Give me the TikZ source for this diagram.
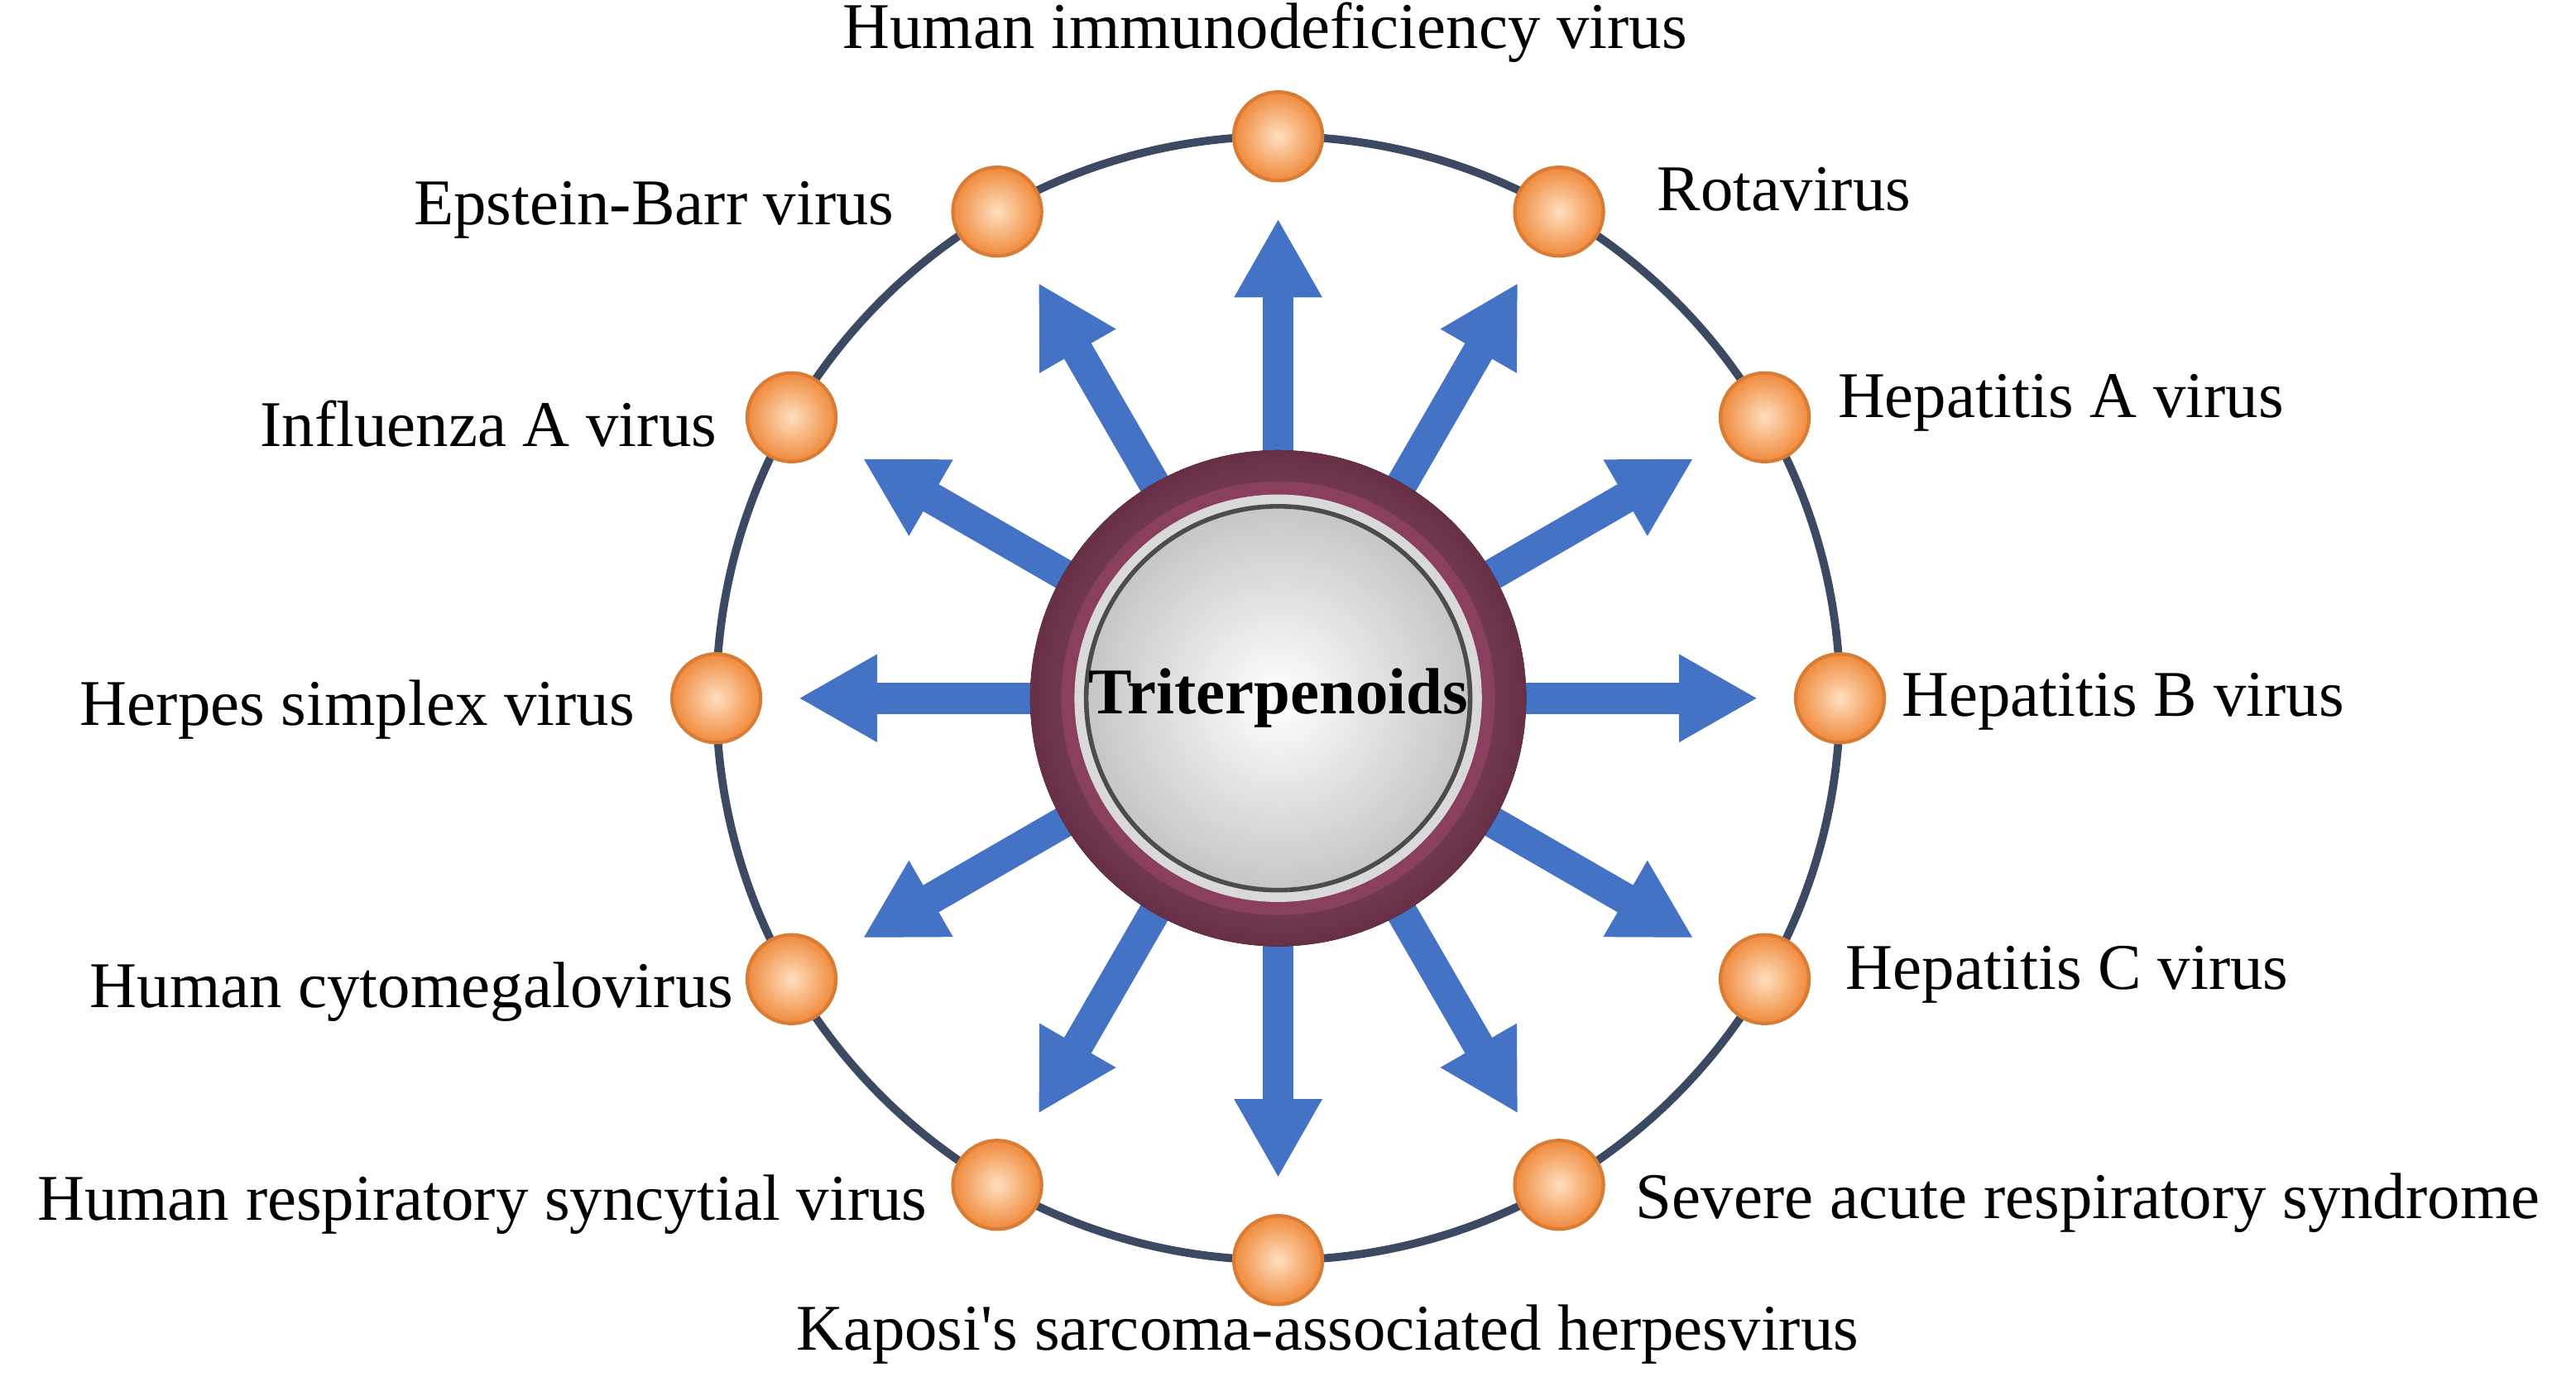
\documentclass[tikz,border=0pt]{standalone}
\usepackage{fontspec}
\setmainfont{Liberation Serif}
\usetikzlibrary{positioning,arrows.meta,calc}
\definecolor{ringblue}{HTML}{3B4A62}
\definecolor{arrowblue}{HTML}{4472C4}
\definecolor{dotorange}{HTML}{F08A3C}
\definecolor{maroon}{HTML}{8A3F5E}
\tikzset{
  dot/.style={circle,minimum size=0.54cm,inner sep=0pt,draw=dotorange!90!black,line width=0.6pt,
    inner color=orange!25,outer color=dotorange},
  lbl/.style={font=\fontsize{11.3}{13}\selectfont,inner sep=0pt},
  blockarrow/.style={arrowblue,line width=0.19cm,-{Triangle[length=0.48cm,width=0.5cm]}}
}
\begin{document}
\begin{tikzpicture}
  \useasboundingbox (0,0) rectangle (15.68,-8.38);
  \coordinate (c) at (7.78,-4.25);
  % outer circle
  \draw[ringblue,line width=1.4pt] (c) circle (3.42);
  % arrows
  \foreach \a in {0,30,...,330}
    \draw[blockarrow] ($(c)+(\a:1.45)$) coordinate (s\a) -- ($(c)+(\a:2.92)$) coordinate (e\a);
  % centre
  \fill[inner color=maroon!70!white,outer color=maroon!75!black] (c) circle (1.51);
  \fill[maroon] (c) circle (1.32);
  \fill[gray!30] (c) circle (1.24);
  \node[circle,minimum size=2.3cm,inner sep=0pt,draw=gray!60!black,line width=0.8pt,
    inner color=white,outer color=gray!45,font=\bfseries\fontsize{11.3}{13}\selectfont] (tri) at (c) {Triterpenoids};
  % dots
  \foreach \a/\n in {90/hiv,60/rota,30/hepa,0/hepb,-30/hepc,-60/sars,-90/kshv,-120/hrsv,-150/hcmv,180/hsv,150/flu,120/ebv}
    \node[dot] (\n) at ($(c)+(\a:3.42)$) {};
  % labels
  \node[lbl] at (7.70,-0.20) {Human immunodeficiency virus};
  \node[lbl,anchor=west] at (10.08,-1.15) {Rotavirus};
  \node[lbl,anchor=west] at (11.18,-2.45) {Hepatitis A virus};
  \node[lbl,anchor=west] at (11.57,-4.27) {Hepatitis B virus};
  \node[lbl,anchor=west] at (11.23,-5.93) {Hepatitis C virus};
  \node[lbl,anchor=west] at (9.95,-7.32) {Severe acute respiratory syndrome};
  \node[lbl] at (8.08,-8.12) {Kaposi\textquotesingle s sarcoma-associated herpesvirus};
  \node[lbl,anchor=east] at (5.65,-7.33) {Human respiratory syncytial virus};
  \node[lbl,anchor=east] at (4.47,-6.04) {Human cytomegalovirus};
  \node[lbl,anchor=east] at (3.87,-4.32) {Herpes simplex virus};
  \node[lbl,anchor=east] at (4.37,-2.58) {Influenza A virus};
  \node[lbl,anchor=east] at (5.45,-1.28) {Epstein-Barr virus};
\end{tikzpicture}
\end{document}
